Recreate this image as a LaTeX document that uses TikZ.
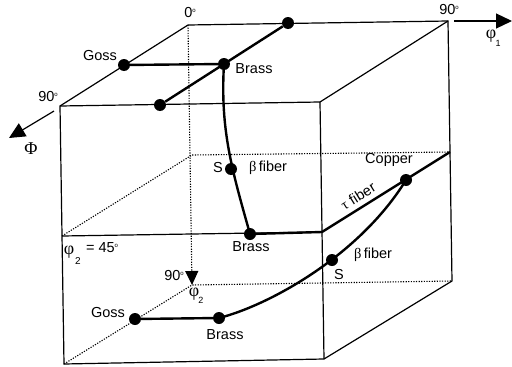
\documentclass[tikz,border=0pt]{standalone}
\usepackage{fontspec}
\setmainfont{Liberation Sans}
\newfontfamily\grk{Liberation Serif}
\usetikzlibrary{arrows.meta}
\newcommand{\degmark}{\raisebox{5pt}{\fontsize{6}{6}\selectfont o}}
\tikzset{
  fiber/.style={line width=2.4pt},
  edge/.style={line width=1.2pt},
  hidden/.style={line width=1.1pt,dash pattern=on 1.2pt off 1.4pt},
  dot/.style={circle,fill=black,inner sep=0pt,minimum size=12pt},
  lbl/.style={inner sep=0pt,font=\fontsize{14.5}{16}\selectfont},
  greek/.style={inner sep=0pt,font=\fontsize{18}{18}\selectfont\grk},
  small/.style={inner sep=0pt,font=\fontsize{9}{10}\selectfont},
  axis/.style={line width=1.2pt,-{Triangle[length=16pt,width=15pt]}}
}
\begin{document}
\begin{tikzpicture}[x=1pt,y=-1pt]
\useasboundingbox (0,0) rectangle (512,367);
% cube corners
\coordinate (btl) at (188,25);
\coordinate (btr) at (448,21);
\coordinate (ftl) at (60,106);
\coordinate (ftr) at (320,102);
\coordinate (bml) at (192,155);
\coordinate (bmr) at (450,152);
\coordinate (fml) at (62,236);
\coordinate (fmr) at (322,232);
\coordinate (bbl) at (192,285);
\coordinate (bbr) at (452,281);
\coordinate (fbl) at (64,364);
\coordinate (fbr) at (324,359);
% axis ends
\coordinate (phione) at (454,21);
\coordinate (phionetip) at (512,21);
\coordinate (bigphi) at (54,111);
\coordinate (bigphitip) at (9,138);
% hidden edges
\draw[hidden,-{Triangle[length=14pt,width=13pt]}] (btl) -- (bbl);
\draw[hidden] (fml) -- (bml) -- (bmr);
\draw[hidden] (fbl) -- (bbl) -- (bbr);
% cube
\draw[edge] (btl) -- (btr) -- (bbr) -- (fbr) -- (fbl) -- (ftl) -- cycle;
\draw[edge] (ftl) -- (ftr) -- (fbr);
\draw[edge] (ftr) -- (btr);
\draw[edge] (fml) -- (fmr);
% axes
\draw[axis] (phione) -- (phionetip);
\draw[axis] (bigphi) -- (bigphitip);
% orientations
\node[dot] (gossa) at (124,65) {};
\node[dot] (brassa) at (224,64) {};
\node[dot] (brassb) at (288,23) {};
\node[dot] (brassc) at (160,105) {};
\node[dot] (sa) at (231,169) {};
\node[dot] (brassd) at (250,234) {};
\node[dot] (copper) at (406,180) {};
\node[dot] (sb) at (332,260) {};
\node[dot] (gossb) at (135,319) {};
\node[dot] (brasse) at (219,318) {};
% fibers
\draw[fiber] (gossa) -- (brassa);
\draw[fiber] (brassb) -- (brassc);
\draw[fiber] (brassa.center) .. controls (220,130) and (232,170) .. (brassd.center);
\draw[fiber] (brassd) -- (fmr) -- (bmr);
\draw[fiber] (gossb) -- (brasse);
\draw[fiber] (brasse.center) .. controls (270,305) and (360,255) .. (copper.center);
% labels
\node[lbl] (lzero) at (190,13) {0\degmark};
\node[lbl] (lnineone) at (449,10) {90\degmark};
\node[lbl] (lninetwo) at (48,97) {90\degmark};
\node[lbl] (lninethree) at (174,276) {90\degmark};
\node[lbl] (lgossa) at (100,56) {Goss};
\node[lbl] (lbrassa) at (254,69) {Brass};
\node[lbl] (ls) at (218,168) {S};
\node[lbl] (lbeta) at (268,168) {{\grk β}\,fiber};
\node[lbl] (lbrassb) at (251,247) {Brass};
\node[lbl] (lcopper) at (389,160) {Copper};
\node[lbl,rotate=32] (ltau) at (358,196) {{\grk τ} fiber};
\node[lbl] (lbetab) at (373,255) {{\grk β}\,fiber};
\node[lbl] (lsb) at (339,275) {S};
\node[lbl] (lgossb) at (108,313) {Goss};
\node[lbl] (lbrassc) at (225,335) {Brass};
\node[greek] (lbigphi) at (31,149) {Φ};
\node[greek] (lphione) at (491,36) {φ};
\node[small] (lsubone) at (498,43) {1};
\node[greek] (lphitwo) at (194,294) {φ};
\node[small] (lsubtwo) at (201,300) {2};
\node[greek] (lphi) at (69,252) {φ};
\node[small,font=\fontsize{10}{11}\selectfont] (lsubthree) at (78,261) {2};
\node[lbl] (lfortyfive) at (102,248) {= 45\degmark};
\end{tikzpicture}
\end{document}
